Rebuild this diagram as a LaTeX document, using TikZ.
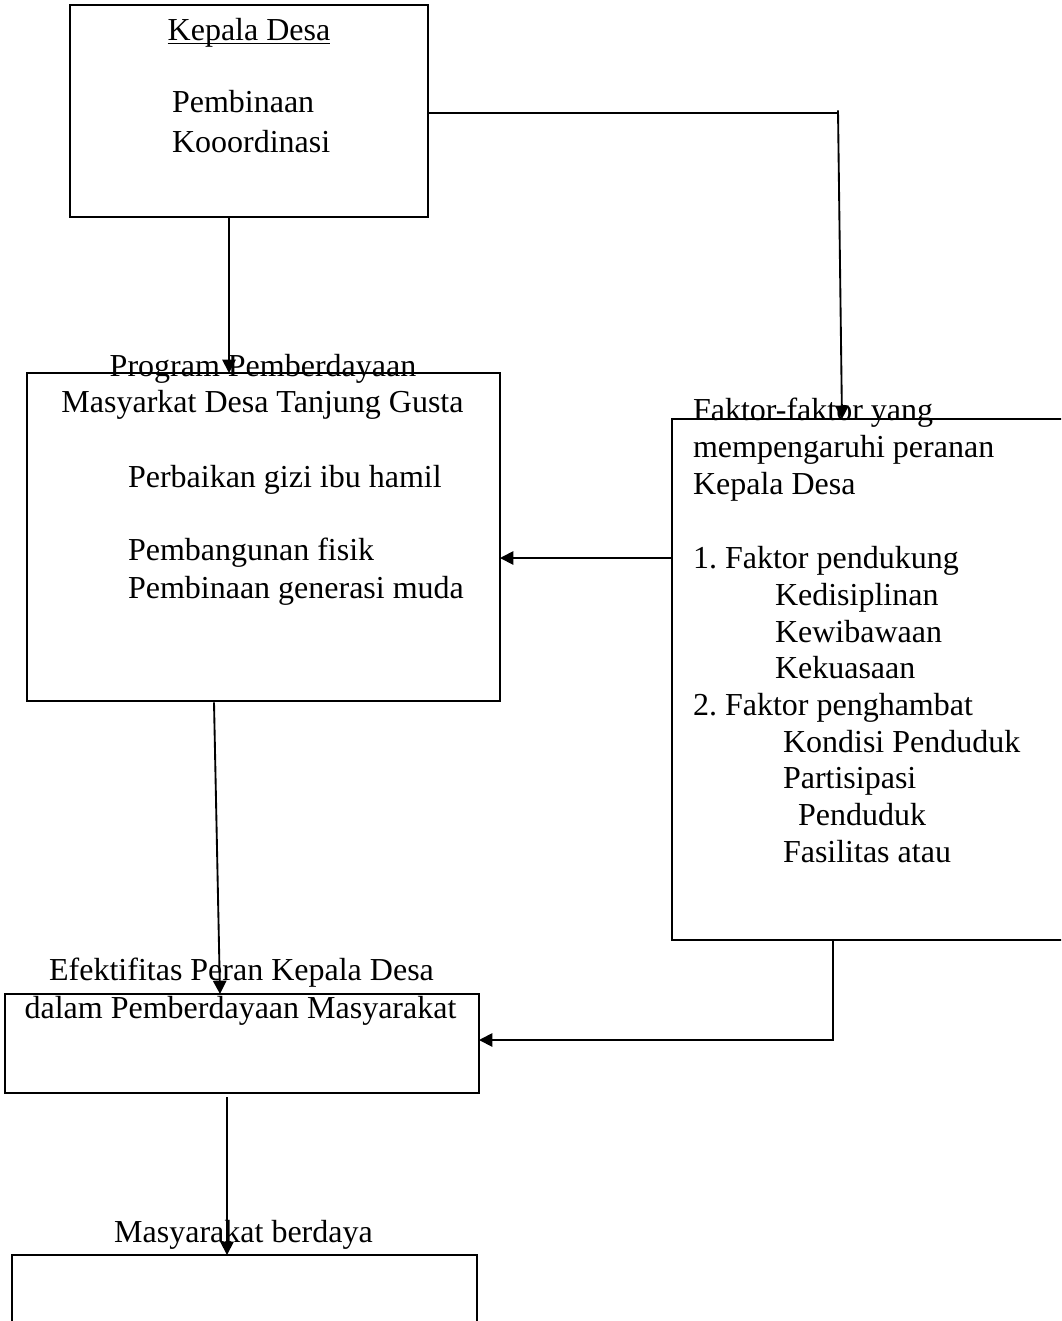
\documentclass[tikz,border=0pt]{standalone}
\usepackage{fontspec}
\setmainfont{Liberation Serif}
\usetikzlibrary{arrows.meta}
\frenchspacing
\begin{document}
\begin{tikzpicture}[x=0.75pt,y=-0.75pt,
  box/.style={draw,line width=1.4pt,inner sep=0pt,outer sep=0pt},
  txt/.style={inner sep=0pt,outer sep=0pt,font=\fontsize{24}{28}\selectfont},
  lt/.style={txt,anchor=base west},
  ct/.style={txt,anchor=base},
  conn/.style={line width=1.4pt},
  arr/.style={conn,-{Triangle[length=10pt,width=10pt]}}]
\useasboundingbox (0,0) rectangle (1061,1321);
\clip (0,0) rectangle (1061,1321);
% boxes
\node[box,minimum width=268.5pt,minimum height=159pt] (kd) at (249,111) {};
\node[box,minimum width=354.75pt,minimum height=246pt] (prog) at (263.5,537) {};
\node[box,minimum width=302.25pt,minimum height=390.75pt] (fak) at (873.5,679.5) {};
\node[box,minimum width=355.5pt,minimum height=74.25pt] (efk) at (242,1043.5) {};
\node[box,minimum width=348.75pt,minimum height=63.75pt] (mb) at (244.5,1297.5) {};
% texts
\node[ct] (t1) at (249,40) {Kepala Desa};
\draw[line width=1.1pt] ([yshift=-2.6pt]t1.base west) -- ([yshift=-2.6pt]t1.base east);
\node[lt] (t2) at (172,112) {Pembinaan};
\node[lt] (t3) at (172,152) {Kooordinasi};
\node[ct] (t4) at (263,376) {Program Pemberdayaan};
\node[ct] (t5) at (262.5,412) {Masyarkat Desa Tanjung Gusta};
\node[lt] (t6) at (128,487) {Perbaikan gizi ibu hamil};
\node[lt] (t7) at (128,560) {Pembangunan fisik};
\node[lt] (t8) at (128,598) {Pembinaan generasi muda};
\node[lt] (f1) at (693,420) {Faktor-faktor yang};
\node[lt] (f2) at (693,457) {mempengaruhi peranan};
\node[lt] (f3) at (693,494) {Kepala Desa};
\node[lt] (f4) at (693,568) {1. Faktor pendukung};
\node[lt] (f5) at (775,605) {Kedisiplinan};
\node[lt] (f6) at (775,642) {Kewibawaan};
\node[lt] (f7) at (775,678) {Kekuasaan};
\node[lt] (f8) at (693,715) {2. Faktor penghambat};
\node[lt] (f9) at (783,752) {Kondisi Penduduk};
\node[lt] (f10) at (783,788) {Partisipasi};
\node[lt] (f11) at (798,825) {Penduduk};
\node[lt] (f12) at (783,862) {Fasilitas atau};
\node[ct] (e1) at (241.5,980) {Efektifitas Peran Kepala Desa};
\node[ct] (e2) at (240.5,1018) {dalam Pemberdayaan Masyarakat};
\node[ct] (m1) at (243.5,1242) {Masyarakat berdaya};
% connector helpers
\coordinate (cx1) at (229,0);
\coordinate (cy1) at (0,113);
\coordinate (cx2) at (838,0);
\coordinate (cx2b) at (842,0);
\coordinate (cy2) at (0,558);
\coordinate (cx3) at (833,0);
\coordinate (cy3) at (0,1040);
\coordinate (cx4a) at (214,0);
\coordinate (cx4b) at (220,0);
\coordinate (cx5) at (227,0);
% connectors
\draw[arr] (kd.south -| cx1) -- (prog.north -| cx1);
\draw[conn] (kd.east |- cy1) -- (cx2 |- cy1);
\draw[arr] ([yshift=2pt]cx2 |- cy1) -- (fak.north -| cx2b);
\draw[arr] (fak.west |- cy2) -- (prog.east |- cy2);
\draw[arr] (fak.south -| cx3) -- (cx3 |- cy3) -- (efk.east |- cy3);
\draw[arr] ([yshift=-1pt]prog.south -| cx4a) -- (efk.north -| cx4b);
\draw[arr] ([yshift=-3pt]efk.south -| cx5) -- (mb.north -| cx5);
\end{tikzpicture}
\end{document}
